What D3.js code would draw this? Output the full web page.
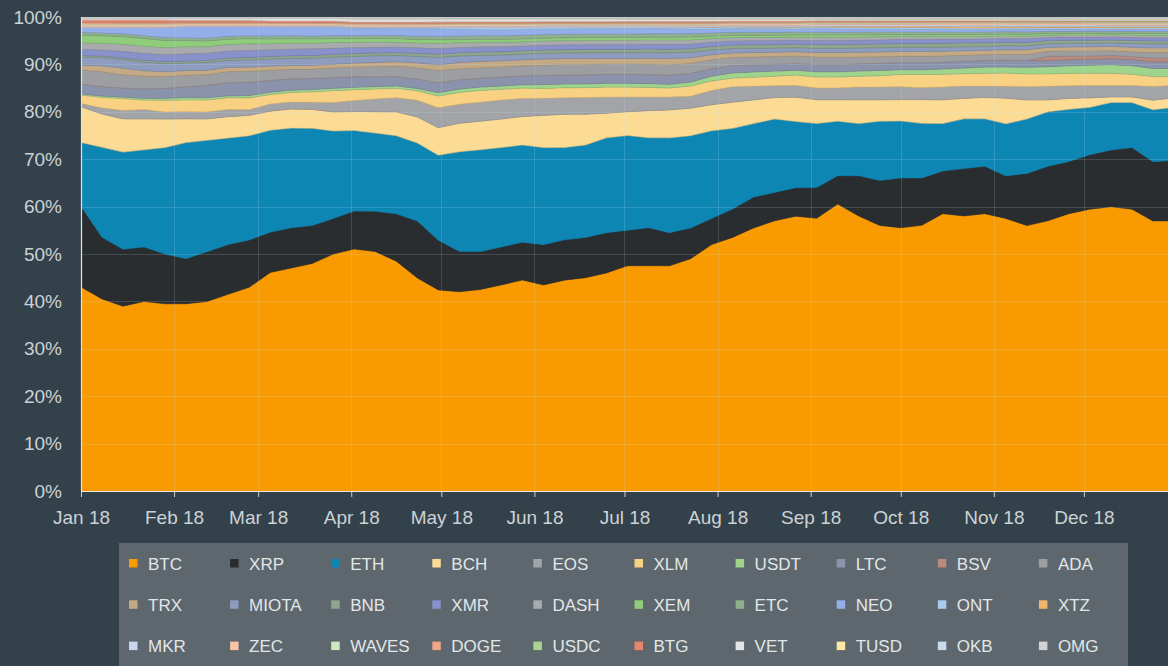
<!DOCTYPE html>
<html><head><meta charset="utf-8">
<script src="https://cdn.jsdelivr.net/npm/d3@7"></script>
<style>
html,body{margin:0;padding:0;background:#33414a;}
svg{display:block;font-family:"Liberation Sans",Arial,Helvetica,sans-serif;}
</style></head>
<body>
<svg id="chart" width="1168" height="666"></svg>
<script>
// ---- DATA (weekly samples, Jan 1 2018 .. Dec 31 2018, % share of top-30 market cap) ----
const startDate = "2018-01-01";
const weekCount = 53;
const tickLabelsY = ["0%","10%","20%","30%","40%","50%","60%","70%","80%","90%","100%"];

const keys = ["BTC","XRP","ETH","BCH","EOS","XLM","USDT","LTC","BSV","ADA",
              "TRX","MIOTA","BNB","XMR","DASH","XEM","ETC","NEO","ONT","XTZ",
              "MKR","ZEC","WAVES","DOGE","USDC","BTG","VET","TUSD","OKB","OMG"];
const colors = ["#f99a00","#2a2d30","#0e86b4","#fcdc95","#a3a4a8","#f9d183","#9fd48c","#8a93ab","#b98a80","#9d9ea2",
                "#c4aa84","#8d9cbf","#8fa58c","#8891c9","#a9aaad","#8fcd7d","#90b08c","#93aee8","#a8cbef","#f0b66c",
                "#c5d5f2","#f9c4a8","#cfe8c0","#f0a68b","#a8d692","#e8836c","#e4e4e4","#fce8a2","#c9dcef","#d2d2d2"];

const BTC  = [43,40.5,39,40,39.5,39.5,40,41.5,43,46,47,48,50,51,50.5,48.5,45,42.5,42,42.5,43.5,44.5,43.5,44.5,45,46,47.5,47.5,47.5,49,52,53.5,55.5,57,58,57.5,60.5,58,56,55.5,56,58.5,58,58.5,57.5,56,57,58.5,59.5,60,59.5,57,57];
const XRP  = [17,13,12,11.5,10.5,9.5,10.5,10.5,10,8.5,8.5,8,7.5,8,8.5,10,12,10.5,8.5,8,8,8,8.5,8.5,8.5,8.5,7.5,8,7,6.5,5.5,6,6.5,6,6,6.5,6,8.5,9.5,10.5,10,9,10,10,9,11,11.5,11,11.5,12,13,12.5,12.8];
const ETH  = [13.5,19,20.5,20.5,22.5,24.5,23.5,22.5,22,21.5,21,20.5,18.5,17,16.5,16.5,16.5,18,21,21.5,21,20.5,20.5,19.5,19.5,20,20,19,20,19.5,18.5,17,15.5,15.5,14,13.5,11.5,11,12.5,12,11.5,10,10.5,10,11,11.5,11.5,11,10,10,9.5,11,11.2];
const BCH  = [7.5,7,7,6.5,6,5,4.5,4.5,4.3,4,4,4,4,4,4.5,5,5.5,5.8,6,6,6,6,6.8,7,6.5,5.2,5,5.7,5.9,5.8,5.5,5.5,5,4.5,5.1,5,4.5,5,4.5,4.5,5,5,4.3,4.5,5.4,4,2.5,2.3,2,1.2,1.2,2,2];
const EOS  = [0.7,1.3,1.8,2,1.5,1.5,1.5,1.5,1.2,1.5,1.5,1.5,2,2.3,2.7,3,3.5,4.2,4,4,4,3.8,3.6,3.5,3.5,3.4,3.1,2.9,2.7,2.5,3,3.3,2.9,2.5,2.5,2.5,2.5,2.7,2.7,2.7,2.5,2.7,2.6,2.4,2.5,2.8,2.9,2.7,2.6,2.4,2.4,2.9,2.6];
const XLM  = [1.8,2.2,2.5,2,2.5,2.5,2.5,2.5,2.5,2,2,2.2,2.5,2.3,2.1,2,2,2.5,2.5,2.5,2.3,2.2,2.1,2.1,2.1,2.1,2.1,2,1.9,2.2,2,1.8,1.9,2,2.2,2.3,2.3,2.3,2.4,2.6,2.8,2.7,2.6,2.7,2.8,2.7,2.6,2.6,2.6,2.6,2.4,2.1,1.9];
const USDT = [0.2,0.3,0.3,0.4,0.4,0.5,0.5,0.4,0.5,0.5,0.5,0.5,0.5,0.5,0.5,0.5,0.5,0.7,0.7,0.7,0.7,0.7,0.8,0.8,0.8,0.8,0.8,0.8,0.8,0.8,1,1.1,1.1,1.1,1,1.1,1.1,1.1,1.1,1,1,1.1,1.2,1.3,1.3,1.4,1.5,1.6,1.7,1.8,1.8,1.7,1.7];
const LTC  = [2.1,2.0,1.9,2.0,2.1,2.3,2.6,2.8,2.8,2.5,2.4,2.3,2.3,2.2,2.1,2.0,2.0,2.1,2.0,1.9,1.9,1.9,1.9,1.9,1.9,1.9,1.9,1.9,1.95,1.85,1.65,1.55,1.5,1.45,1.45,1.5,1.5,1.5,1.5,1.5,1.5,1.45,1.45,1.4,1.45,1.45,1.3,1.25,1.25,1.25,1.3,1.4,1.4];
const BSV  = [0,0,0,0,0,0,0,0,0,0,0,0,0,0,0,0,0,0,0,0,0,0,0,0,0,0,0,0,0,0,0,0,0,0,0,0,0,0,0,0,0,0,0,0,0,0,0.9,0.8,0.7,0.7,0.6,0.8,0.8];
const ADA  = [3.0,3.1,2.8,2.6,2.5,2.4,2.3,2.3,2.3,2.1,2.0,2.0,2.0,2.1,2.1,2.2,2.4,2.6,2.3,2.2,2.1,2.1,2.2,2.2,2.2,2.15,2.15,2.2,2.2,2.1,1.85,1.7,1.65,1.6,1.55,1.6,1.55,1.45,1.4,1.35,1.35,1.3,1.25,1.2,1.2,1.25,1.05,1.05,1.05,1.0,1.05,1.15,1.15];
const TRX  = [1.0,1.3,1.4,1.2,1.0,1.0,0.9,0.9,0.9,0.9,0.8,0.8,0.8,0.8,0.9,0.9,1.0,1.2,1.3,1.3,1.3,1.25,1.3,1.25,1.25,1.2,1.2,1.25,1.3,1.2,1.05,0.95,0.95,0.9,0.9,0.95,1.0,1.0,1.0,1.0,1.0,1.0,0.95,0.95,1.0,1.0,0.85,0.85,0.9,0.9,0.95,1.0,1.0];
const MIOTA= [1.7,1.7,1.8,1.8,1.7,1.6,1.6,1.5,1.5,1.5,1.5,1.5,1.5,1.4,1.4,1.3,1.4,1.6,1.4,1.3,1.2,1.2,1.2,1.2,1.2,1.2,1.2,1.2,1.2,1.15,1.0,0.95,0.9,0.9,0.85,0.9,0.9,0.9,0.9,0.9,0.9,0.85,0.85,0.8,0.8,0.8,0.75,0.75,0.75,0.75,0.8,0.85,0.85];
const BNB  = [0.3,0.32,0.35,0.38,0.4,0.42,0.45,0.47,0.5,0.52,0.55,0.57,0.58,0.6,0.6,0.62,0.62,0.65,0.68,0.7,0.7,0.7,0.7,0.7,0.72,0.72,0.74,0.75,0.75,0.76,0.75,0.75,0.75,0.76,0.78,0.8,0.8,0.8,0.8,0.8,0.8,0.82,0.8,0.8,0.75,0.72,0.7,0.68,0.62,0.6,0.6,0.6,0.6];
const XMR  = [1.3,1.3,1.4,1.5,1.5,1.5,1.5,1.5,1.5,1.4,1.4,1.4,1.3,1.3,1.2,1.2,1.2,1.2,1.1,1.1,1.05,1.0,1.0,1.0,1.0,1.0,1.0,1.0,1.05,1.0,0.9,0.85,0.85,0.85,0.8,0.85,0.85,0.85,0.85,0.85,0.85,0.85,0.8,0.8,0.8,0.8,0.65,0.65,0.65,0.65,0.65,0.7,0.7];
const DASH = [1.4,1.4,1.5,1.5,1.5,1.5,1.4,1.4,1.4,1.3,1.3,1.2,1.2,1.1,1.1,1.0,1.0,1.1,1.0,0.95,0.95,0.9,0.9,0.9,0.9,0.9,0.9,0.9,0.9,0.85,0.75,0.7,0.7,0.65,0.65,0.7,0.7,0.65,0.65,0.6,0.6,0.6,0.55,0.55,0.55,0.55,0.45,0.45,0.45,0.45,0.5,0.5,0.5];
const XEM  = [1.6,1.6,1.6,1.6,1.5,1.3,1.2,1.1,1.1,1.0,0.9,0.9,0.8,0.75,0.75,0.75,0.75,0.75,0.65,0.6,0.6,0.6,0.6,0.6,0.6,0.6,0.6,0.6,0.6,0.6,0.5,0.45,0.45,0.45,0.45,0.45,0.45,0.45,0.45,0.4,0.4,0.4,0.4,0.4,0.4,0.4,0.35,0.3,0.35,0.3,0.35,0.35,0.35];
const ETC  = [0.6,0.6,0.6,0.6,0.6,0.6,0.6,0.6,0.6,0.6,0.6,0.6,0.6,0.62,0.64,0.66,0.68,0.7,0.78,0.8,0.8,0.8,0.78,0.76,0.74,0.72,0.72,0.7,0.7,0.7,0.68,0.66,0.65,0.65,0.64,0.62,0.6,0.6,0.58,0.56,0.55,0.55,0.54,0.52,0.5,0.5,0.48,0.48,0.45,0.45,0.45,0.45,0.45];
const NEO  = [1.1,1.2,1.4,1.8,2.2,2.4,2.5,2.1,2.0,2.0,1.9,1.9,1.8,1.6,1.5,1.5,1.6,1.6,1.4,1.3,1.25,1.2,1.15,1.1,1.1,1.1,1.1,1.1,1.05,1.0,0.85,0.75,0.7,0.7,0.65,0.7,0.7,0.65,0.6,0.6,0.6,0.55,0.55,0.5,0.5,0.55,0.45,0.45,0.45,0.45,0.45,0.5,0.5];
const ONT  = [0,0,0,0,0,0,0,0,0,0.05,0.1,0.15,0.2,0.22,0.24,0.26,0.3,0.35,0.45,0.5,0.55,0.5,0.48,0.46,0.44,0.44,0.42,0.4,0.4,0.4,0.38,0.36,0.35,0.35,0.35,0.35,0.35,0.35,0.35,0.35,0.35,0.34,0.33,0.33,0.32,0.32,0.3,0.3,0.3,0.3,0.3,0.3,0.3];
const XTZ  = [0,0,0,0,0,0,0,0,0,0,0,0,0,0,0,0,0,0,0,0,0,0,0,0,0,0,0,0,0.05,0.08,0.1,0.12,0.14,0.15,0.17,0.2,0.23,0.25,0.27,0.28,0.3,0.3,0.3,0.3,0.3,0.28,0.27,0.26,0.25,0.25,0.25,0.25,0.25];
const MKR  = [0.1,0.1,0.1,0.1,0.1,0.12,0.12,0.12,0.12,0.15,0.15,0.15,0.15,0.18,0.2,0.2,0.2,0.2,0.2,0.2,0.2,0.2,0.2,0.2,0.2,0.2,0.22,0.22,0.22,0.22,0.22,0.25,0.25,0.25,0.25,0.28,0.28,0.28,0.28,0.3,0.3,0.3,0.3,0.3,0.3,0.3,0.3,0.3,0.3,0.3,0.3,0.3,0.3];
const ZEC  = [0.4,0.4,0.4,0.4,0.4,0.35,0.35,0.35,0.35,0.33,0.33,0.33,0.33,0.3,0.3,0.3,0.3,0.3,0.3,0.3,0.3,0.3,0.3,0.3,0.3,0.3,0.3,0.3,0.3,0.3,0.3,0.3,0.3,0.3,0.3,0.28,0.28,0.28,0.28,0.28,0.28,0.28,0.28,0.28,0.26,0.26,0.26,0.26,0.25,0.25,0.25,0.25,0.25];
const WAVES= [0.2,0.2,0.2,0.2,0.2,0.15,0.15,0.15,0.15,0.12,0.12,0.12,0.12,0.12,0.12,0.12,0.12,0.12,0.15,0.15,0.15,0.15,0.15,0.15,0.15,0.15,0.15,0.15,0.15,0.15,0.15,0.15,0.15,0.15,0.15,0.15,0.15,0.15,0.15,0.15,0.15,0.15,0.15,0.15,0.15,0.15,0.15,0.15,0.2,0.2,0.2,0.2,0.2];
const DOGE = [0.3,0.3,0.3,0.3,0.3,0.25,0.25,0.25,0.25,0.2,0.2,0.2,0.2,0.2,0.2,0.2,0.2,0.2,0.2,0.2,0.2,0.2,0.2,0.2,0.2,0.2,0.2,0.2,0.2,0.2,0.2,0.22,0.22,0.22,0.22,0.22,0.22,0.22,0.22,0.22,0.22,0.22,0.22,0.22,0.22,0.22,0.22,0.22,0.2,0.2,0.2,0.2,0.2];
const USDC = [0,0,0,0,0,0,0,0,0,0,0,0,0,0,0,0,0,0,0,0,0,0,0,0,0,0,0,0,0,0,0,0,0,0,0,0,0,0,0,0,0,0.05,0.08,0.1,0.12,0.14,0.15,0.16,0.18,0.2,0.2,0.2,0.2];
const BTG  = [0.5,0.5,0.5,0.5,0.5,0.4,0.4,0.4,0.4,0.35,0.35,0.35,0.35,0.3,0.3,0.3,0.3,0.3,0.3,0.3,0.3,0.3,0.28,0.28,0.28,0.28,0.27,0.27,0.27,0.27,0.27,0.25,0.25,0.25,0.25,0.22,0.22,0.22,0.22,0.2,0.2,0.2,0.2,0.2,0.15,0.15,0.15,0.15,0.12,0.12,0.12,0.12,0.12];
const VET  = [0.3,0.3,0.3,0.3,0.3,0.4,0.4,0.4,0.4,0.5,0.5,0.5,0.5,0.6,0.6,0.6,0.6,0.6,0.55,0.55,0.55,0.55,0.5,0.5,0.5,0.5,0.45,0.45,0.45,0.45,0.45,0.35,0.35,0.35,0.35,0.28,0.28,0.28,0.28,0.25,0.25,0.25,0.25,0.25,0.22,0.22,0.22,0.22,0.2,0.2,0.2,0.2,0.2];
const TUSD = [0,0,0,0,0,0,0,0,0,0.02,0.02,0.02,0.02,0.03,0.03,0.03,0.03,0.03,0.04,0.04,0.04,0.04,0.05,0.05,0.05,0.05,0.06,0.06,0.06,0.06,0.06,0.08,0.08,0.08,0.08,0.1,0.1,0.1,0.1,0.12,0.12,0.12,0.12,0.12,0.15,0.15,0.15,0.15,0.15,0.15,0.15,0.15,0.15];
const OKB  = [0,0,0,0,0,0,0,0,0,0,0,0,0,0.05,0.05,0.05,0.05,0.05,0.1,0.1,0.1,0.1,0.1,0.1,0.1,0.1,0.12,0.12,0.12,0.12,0.12,0.15,0.15,0.15,0.15,0.15,0.15,0.15,0.15,0.15,0.15,0.15,0.15,0.15,0.18,0.18,0.18,0.18,0.2,0.2,0.2,0.2,0.2];
const OMG  = [0.35,0.35,0.35,0.35,0.35,0.3,0.3,0.3,0.3,0.3,0.3,0.3,0.3,0.35,0.35,0.35,0.35,0.35,0.3,0.3,0.3,0.3,0.28,0.28,0.28,0.28,0.28,0.28,0.28,0.28,0.28,0.25,0.25,0.25,0.25,0.25,0.25,0.25,0.25,0.25,0.25,0.25,0.25,0.25,0.22,0.22,0.22,0.22,0.2,0.2,0.2,0.2,0.2];

const seriesValues = {BTC,XRP,ETH,BCH,EOS,XLM,USDT,LTC,BSV,ADA,TRX,MIOTA,BNB,XMR,DASH,XEM,ETC,NEO,ONT,XTZ,MKR,ZEC,WAVES,DOGE,USDC,BTG,VET,TUSD,OKB,OMG};

// ---- BUILD ----
const parse = d3.timeParse("%Y-%m-%d");
const t0 = parse(startDate);
const dates = d3.range(weekCount).map(i => d3.timeDay.offset(t0, i * 7));
const rows = dates.map((d, i) => {
  const r = {date: d};
  keys.forEach(k => r[k] = seriesValues[k][i]);
  return r;
});

const W = 1168, H = 666;
const plotLeft = 81, plotTop = 17, plotBottom = 491;
const svg = d3.select("#chart");

svg.append("rect").attr("width", W).attr("height", H).attr("fill", "#33414a");

const x = d3.scaleTime().domain([parse("2018-01-01"), parse("2018-12-31")]).range([plotLeft, 1174]);
const y = d3.scaleLinear().domain([0, 1]).range([plotBottom, plotTop]);

svg.append("clipPath").attr("id", "plotclip")
  .append("rect").attr("x", plotLeft).attr("y", plotTop).attr("width", W - plotLeft).attr("height", plotBottom - plotTop);

const stack = d3.stack().keys(keys).order(d3.stackOrderNone).offset(d3.stackOffsetExpand);
const layers = stack(rows);
const color = d3.scaleOrdinal().domain(keys).range(colors);

const area = d3.area()
  .x(d => x(d.data.date))
  .y0(d => y(d[0]))
  .y1(d => y(d[1]))
  .curve(d3.curveLinear);

const plot = svg.append("g").attr("clip-path", "url(#plotclip)");
plot.selectAll("path.layer").data(layers).join("path")
  .attr("class", "layer")
  .attr("d", area)
  .attr("fill", d => color(d.key))
  .attr("stroke", (d, i) => i >= 3 ? d3.color(color(d.key)).darker(0.35) : color(d.key))
  .attr("stroke-width", (d, i) => i >= 3 ? 0.6 : 0.5);

// gridlines on top
const grid = plot.append("g").attr("stroke", "#c8eeff").attr("stroke-opacity", 0.16).attr("stroke-width", 1);
grid.selectAll("line.h").data(d3.range(1, 10).map(v => v / 10)).join("line")
  .attr("class", "h")
  .attr("x1", plotLeft).attr("x2", W)
  .attr("y1", d => Math.round(y(d)) + 0.5).attr("y2", d => Math.round(y(d)) + 0.5);
const months = x.ticks(d3.timeMonth.every(1)).filter(d => +d > +x.domain()[0]);
grid.selectAll("line.v").data(months).join("line")
  .attr("class", "v")
  .attr("y1", plotTop).attr("y2", plotBottom)
  .attr("x1", d => Math.round(x(d)) + 0.5).attr("x2", d => Math.round(x(d)) + 0.5);

// axes
const xAxis = d3.axisBottom(x)
  .ticks(d3.timeMonth.every(1))
  .tickFormat(d3.timeFormat("%b %y"))
  .tickSize(6)
  .tickPadding(14);
const gx = svg.append("g").attr("transform", `translate(0,${plotBottom})`).call(xAxis);
gx.select(".domain").remove();
gx.selectAll(".tick line").attr("stroke", "#c8cdd0");
gx.selectAll(".tick text").attr("fill", "#ccd2d6").attr("font-size", 19)
  .attr("font-family", "'Liberation Sans', Arial, sans-serif");

const yAxis = d3.axisLeft(y)
  .tickValues(d3.range(0, 11).map(v => v / 10))
  .tickFormat((d, i) => tickLabelsY[i])
  .tickSize(0)
  .tickPadding(19);
const gy = svg.append("g").attr("transform", `translate(${plotLeft},0)`).call(yAxis);
gy.select(".domain").remove();
gy.selectAll(".tick text").attr("fill", "#ccd2d6").attr("font-size", 19)
  .attr("font-family", "'Liberation Sans', Arial, sans-serif");

// axis lines
svg.append("line").attr("x1", plotLeft).attr("x2", W).attr("y1", plotBottom + 0.5).attr("y2", plotBottom + 0.5)
  .attr("stroke", "#ece6d8").attr("stroke-width", 1.2);
svg.append("line").attr("x1", plotLeft + 0.5).attr("x2", plotLeft + 0.5).attr("y1", plotTop).attr("y2", plotBottom)
  .attr("stroke", "#e6e3dc").attr("stroke-width", 1.2);

// legend
const lg = svg.append("g");
lg.append("rect").attr("x", 119).attr("y", 543).attr("width", 1009).attr("height", 140).attr("fill", "#5d676d");
const colW = 101.1, rowH = 41.3;
const items = lg.selectAll("g.item").data(keys).join("g")
  .attr("class", "item")
  .attr("transform", (d, i) => `translate(${129 + (i % 10) * colW},${559 + Math.floor(i / 10) * rowH})`);
items.append("rect").attr("width", 8.5).attr("height", 8.5).attr("fill", d => color(d));
items.append("text").attr("x", 19).attr("y", 10.5).text(d => d)
  .attr("fill", "#e2e6e8").attr("font-size", 17)
  .attr("font-family", "'Liberation Sans', Arial, sans-serif");
</script>
</body></html>
